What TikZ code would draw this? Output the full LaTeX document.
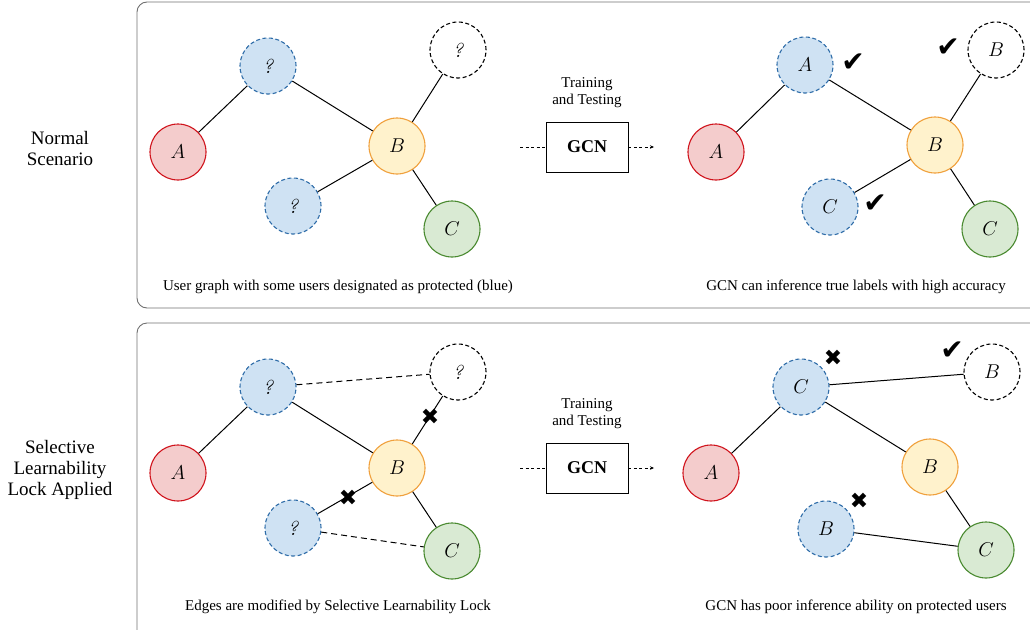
\RequirePackage{fix-cm}
\documentclass[tikz,border=0pt]{standalone}
\usepackage{amsmath, amssymb}
\usepackage{fontspec}
\setmainfont{Liberation Serif}
\newfontfamily\symfont{DejaVu Sans}
\newfontfamily\qfont{lmroman10-italic}[Extension=.otf]
\usepackage{tikz}
\usetikzlibrary{positioning,arrows.meta,calc}

\definecolor{redline}{HTML}{D0131C}
\definecolor{redfill}{HTML}{F4CCCC}
\definecolor{orgline}{HTML}{F0A03C}
\definecolor{orgfill}{HTML}{FFF2CC}
\definecolor{grnline}{HTML}{4A8A30}
\definecolor{grnfill}{HTML}{D9EAD3}
\definecolor{bluline}{HTML}{2E6CA8}
\definecolor{blufill}{HTML}{CFE2F3}
\definecolor{frame}{HTML}{707070}

\newcommand{\unk}{{\qfont ?}}

\begin{document}
\begin{tikzpicture}[
  x=1pt, y=-1pt,
  usr/.style={
    circle, minimum size=56pt, inner sep=0pt, line width=1.1pt,
    font=\fontsize{20}{20}\selectfont
  },
  redusr/.style={usr, draw=redline, fill=redfill},
  orgusr/.style={usr, draw=orgline, fill=orgfill},
  grnusr/.style={usr, draw=grnline, fill=grnfill},
  protusr/.style={usr, draw=bluline, fill=blufill, dash pattern=on 4pt off 2.5pt},
  hidusr/.style={usr, draw=black, fill=white, dash pattern=on 4pt off 2.5pt},
  link/.style={line width=1pt},
  fakelink/.style={link, dash pattern=on 6pt off 4pt},
  panel/.style={draw=frame, line width=0.9pt, rounded corners=10pt},
  caption/.style={font=\fontsize{15}{17}\selectfont},
  side/.style={align=center, font=\fontsize{19}{21}\selectfont},
  okmark/.style={font=\symfont\fontsize{28}{28}\selectfont, inner sep=0pt},
  badmark/.style={font=\symfont\fontsize{22}{22}\selectfont, inner sep=0pt},
  model/.style={draw, line width=0.8pt, minimum width=82pt, minimum height=50pt,
    font=\bfseries\fontsize{18}{18}\selectfont},
  feed/.style={line width=0.7pt, dash pattern=on 3pt off 2.5pt}
]
\useasboundingbox (0,0) rectangle (1030,629);

% two panels
\draw[panel] (137,2) rectangle (1060,308);
\draw[panel] (137,323) rectangle (1060,660);

\node[side] (lbltop) at (60,148) {Normal\\Scenario};
\node[side] (lblbot) at (60,470) {Selective\\Learnability\\Lock Applied};

% ---- normal scenario, input graph
\node[redusr]  (a1)  at (178,152) {$A$};
\node[protusr] (p1)  at (268,66)  {\unk};
\node[orgusr]  (b1)  at (397,146) {$B$};
\node[hidusr]  (h1)  at (458,50)  {\unk};
\node[protusr] (q1)  at (293,206) {\unk};
\node[grnusr]  (c1)  at (452,229) {$C$};

\draw[link] (a1) -- (p1);
\draw[link] (p1) -- (b1);
\draw[link] (b1) -- (h1);
\draw[link] (b1) -- (q1);
\draw[link] (b1) -- (c1);

\node[caption] (cap1) at (338,287) {User graph with some users designated as protected (blue)};

% ---- normal scenario, model
\node[model] (gcn1) at (587,147) {GCN};
\node[align=center, font=\fontsize{15}{17}\selectfont] (tt1) at (587,93) {Training\\and Testing};
\coordinate (in1) at (520,147);
\coordinate (out1) at (654,147);
\draw[feed] (in1) -- (gcn1.west);
\draw[feed, -{Stealth[length=4pt, width=3.5pt]}] (gcn1.east) -- (out1);

% ---- normal scenario, inferred labels
\node[redusr]  (a2)  at (716,152) {$A$};
\node[protusr] (p2)  at (805,65)  {$A$};
\node[orgusr]  (b2)  at (935,145) {$B$};
\node[hidusr]  (h2)  at (996,50)  {$B$};
\node[protusr] (q2)  at (830,207) {$C$};
\node[grnusr]  (c2)  at (990,229) {$C$};

\draw[link] (a2) -- (p2);
\draw[link] (p2) -- (b2);
\draw[link] (b2) -- (h2);
\draw[link] (b2) -- (q2);
\draw[link] (b2) -- (c2);

\node[okmark] (ok1) at (853,63)  {✔};
\node[okmark] (ok2) at (948,48)  {✔};
\node[okmark] (ok3) at (875,204) {✔};

\node[caption] (cap2) at (856,287) {GCN can inference true labels with high accuracy};

% ---- lock applied, modified graph
\node[redusr]  (a3)  at (178,473) {$A$};
\node[protusr] (p3)  at (268,387) {\unk};
\node[orgusr]  (b3)  at (397,468) {$B$};
\node[hidusr]  (h3)  at (458,372) {\unk};
\node[protusr] (q3)  at (293,528) {\unk};
\node[grnusr]  (c3)  at (452,551) {$C$};

\draw[link] (a3) -- (p3);
\draw[link] (p3) -- (b3);
\draw[link] (b3) -- (h3);
\draw[link] (b3) -- (q3);
\draw[link] (b3) -- (c3);
\draw[fakelink] (p3) -- (h3);
\draw[fakelink] (q3) -- (c3);

\node[badmark] (cut1) at (430,417) {✖};
\node[badmark] (cut2) at (348,498) {✖};

\node[caption] (cap3) at (338,607) {Edges are modified by Selective Learnability Lock};

% ---- lock applied, model
\node[model] (gcn2) at (587,468) {GCN};
\node[align=center, font=\fontsize{15}{17}\selectfont] (tt2) at (587,414) {Training\\and Testing};
\coordinate (in2) at (520,468);
\coordinate (out2) at (654,468);
\draw[feed] (in2) -- (gcn2.west);
\draw[feed, -{Stealth[length=4pt, width=3.5pt]}] (gcn2.east) -- (out2);

% ---- lock applied, inferred labels
\node[redusr]  (a4)  at (711,473) {$A$};
\node[protusr] (p4)  at (801,387) {$C$};
\node[orgusr]  (b4)  at (930,467) {$B$};
\node[hidusr]  (h4)  at (992,372) {$B$};
\node[protusr] (q4)  at (826,529) {$B$};
\node[grnusr]  (c4)  at (986,550) {$C$};

\draw[link] (a4) -- (p4);
\draw[link] (p4) -- (b4);
\draw[link] (p4) -- (h4);
\draw[link] (b4) -- (c4);
\draw[link] (q4) -- (c4);

\node[badmark] (bad1) at (833,358) {✖};
\node[okmark]  (ok4)  at (952,351) {✔};
\node[badmark] (bad2) at (859,501) {✖};

\node[caption] (cap4) at (856,607) {GCN has poor inference ability on protected users};

\end{tikzpicture}
\end{document}
